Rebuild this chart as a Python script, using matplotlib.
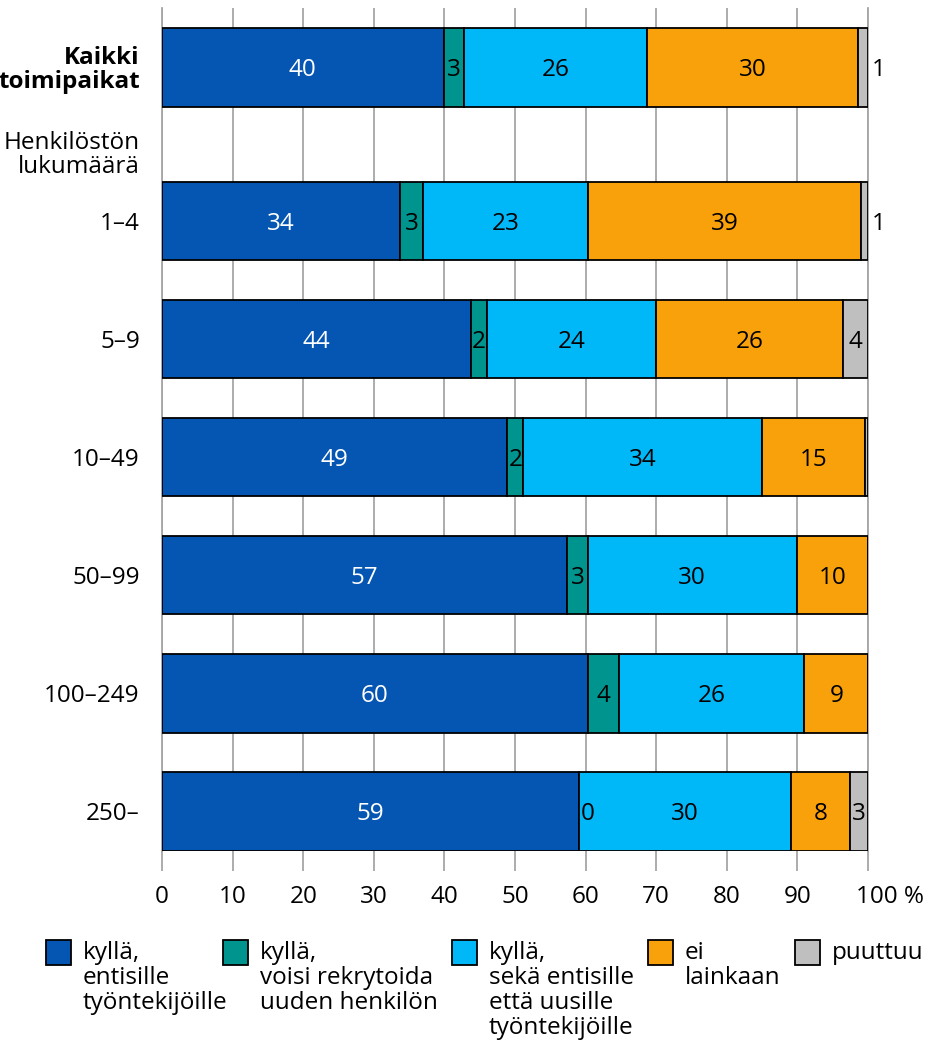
import matplotlib as mpl
mpl.use('Agg')
import matplotlib.pyplot as plt
import matplotlib.transforms as mtransforms
from matplotlib.patches import Rectangle

plt.rcParams['font.family'] = ['Open Sans', 'DejaVu Sans']
plt.rcParams['font.size'] = 17.5

# share of workplaces (%), one value per row of the chart
rows = ['Kaikki\ntoimipaikat', '1–4', '5–9', '10–49', '50–99', '100–249', '250–']
row_pos = [6.3, 5, 4, 3, 2, 1, 0]
group_label = 'Henkilöstön\nlukumäärä'
group_pos = 5.58

entisille = [39.9, 33.7, 43.7, 48.9, 57.4, 60.3, 59.0]
uusi_henkilo = [2.9, 3.3, 2.3, 2.3, 2.9, 4.4, 0.0]
molemmat = [25.9, 23.4, 24.0, 33.8, 29.6, 26.3, 30.1]
ei_lainkaan = [29.9, 38.6, 26.4, 14.6, 10.1, 9.0, 8.3]
puuttuu = [1.4, 1.0, 3.6, 0.4, 0.0, 0.0, 2.6]

series = [
    ('kyllä,\nentisille\ntyöntekijöille', entisille, '#0555b2', 'white'),
    ('kyllä,\nvoisi rekrytoida\nuuden henkilön', uusi_henkilo, '#00948f', 'black'),
    ('kyllä,\nsekä entisille\nettä uusille\ntyöntekijöille', molemmat, '#00b7f8', 'black'),
    ('ei\nlainkaan', ei_lainkaan, '#f9a10a', 'black'),
    ('puuttuu', puuttuu, '#bfbfbf', 'black'),
]

xticks = [0, 10, 20, 30, 40, 50, 60, 70, 80, 90, 100]
xticklabels = ['0', '10', '20', '30', '40', '50', '60', '70', '80', '90', '100 %']

fig = plt.figure(figsize=(9.29, 10.45), dpi=100)
ax = fig.add_axes([162 / 929, 1 - 850.7 / 1045, 706 / 929, 842.4 / 1045])

grid_col = '#a6a6a6'
left = [0.0] * len(rows)
for name, vals, col, txt_col in series:
    ax.barh(row_pos, vals, left=left, height=0.665, color=col,
            edgecolor='black', linewidth=1.3, zorder=3)
    for y, l, v in zip(row_pos, left, vals):
        if name == 'puuttuu':
            if v < 0.5:
                continue
            if v < 2:
                # too thin, put the number beside the bar
                ax.text(l + v + 0.6, y, f'{v:.0f}', ha='left',
                        va='center_baseline', color='black', zorder=4)
                continue
        if v == 0:
            # empty segment: number just right of the boundary
            ax.text(l + 0.3, y, f'{v:.0f}', ha='left', va='center_baseline',
                    color='black', zorder=4)
            continue
        ax.text(l + v / 2, y, f'{v:.0f}', ha='center', va='center_baseline',
                color=txt_col, zorder=4)
    left = [a + b for a, b in zip(left, vals)]

ax.set_xlim(0, 100)
ax.set_ylim(-0.333, 6.8)

ax.set_xticks(xticks)
ax.set_xticklabels(xticklabels)
ax.set_yticks(row_pos + [group_pos])
ax.set_yticklabels(rows + [group_label], linespacing=1.0)
ax.get_yticklabels()[0].set_fontweight('bold')

ax.tick_params(axis='y', length=0, pad=16)
ax.tick_params(axis='x', length=14.4, width=1.3, color=grid_col, pad=10)
last = ax.get_xticklabels()[-1]
last.set_transform(last.get_transform() +
                   mtransforms.ScaledTranslation(0.22, 0, fig.dpi_scale_trans))

ax.grid(axis='x', color=grid_col, linewidth=1.3, zorder=0)
ax.set_axisbelow(True)
for side in ['top', 'bottom']:
    ax.spines[side].set_visible(False)
for side in ['left', 'right']:
    ax.spines[side].set_color(grid_col)
    ax.spines[side].set_linewidth(1.3)

# legend along the bottom, boxes aligned to the first text line
box_x = [46, 223, 452, 648, 795]
for bx, (name, _, col, _) in zip(box_x, series):
    fig.add_artist(Rectangle((bx / 929, 1 - 965 / 1045), 25 / 929, 25 / 1045,
                             transform=fig.transFigure, facecolor=col,
                             edgecolor='black', linewidth=1.3))
    fig.text((bx + 37) / 929, 1 - 941 / 1045, name, ha='left', va='top',
             linespacing=1.06)

fig.savefig('out.png', dpi=100)
